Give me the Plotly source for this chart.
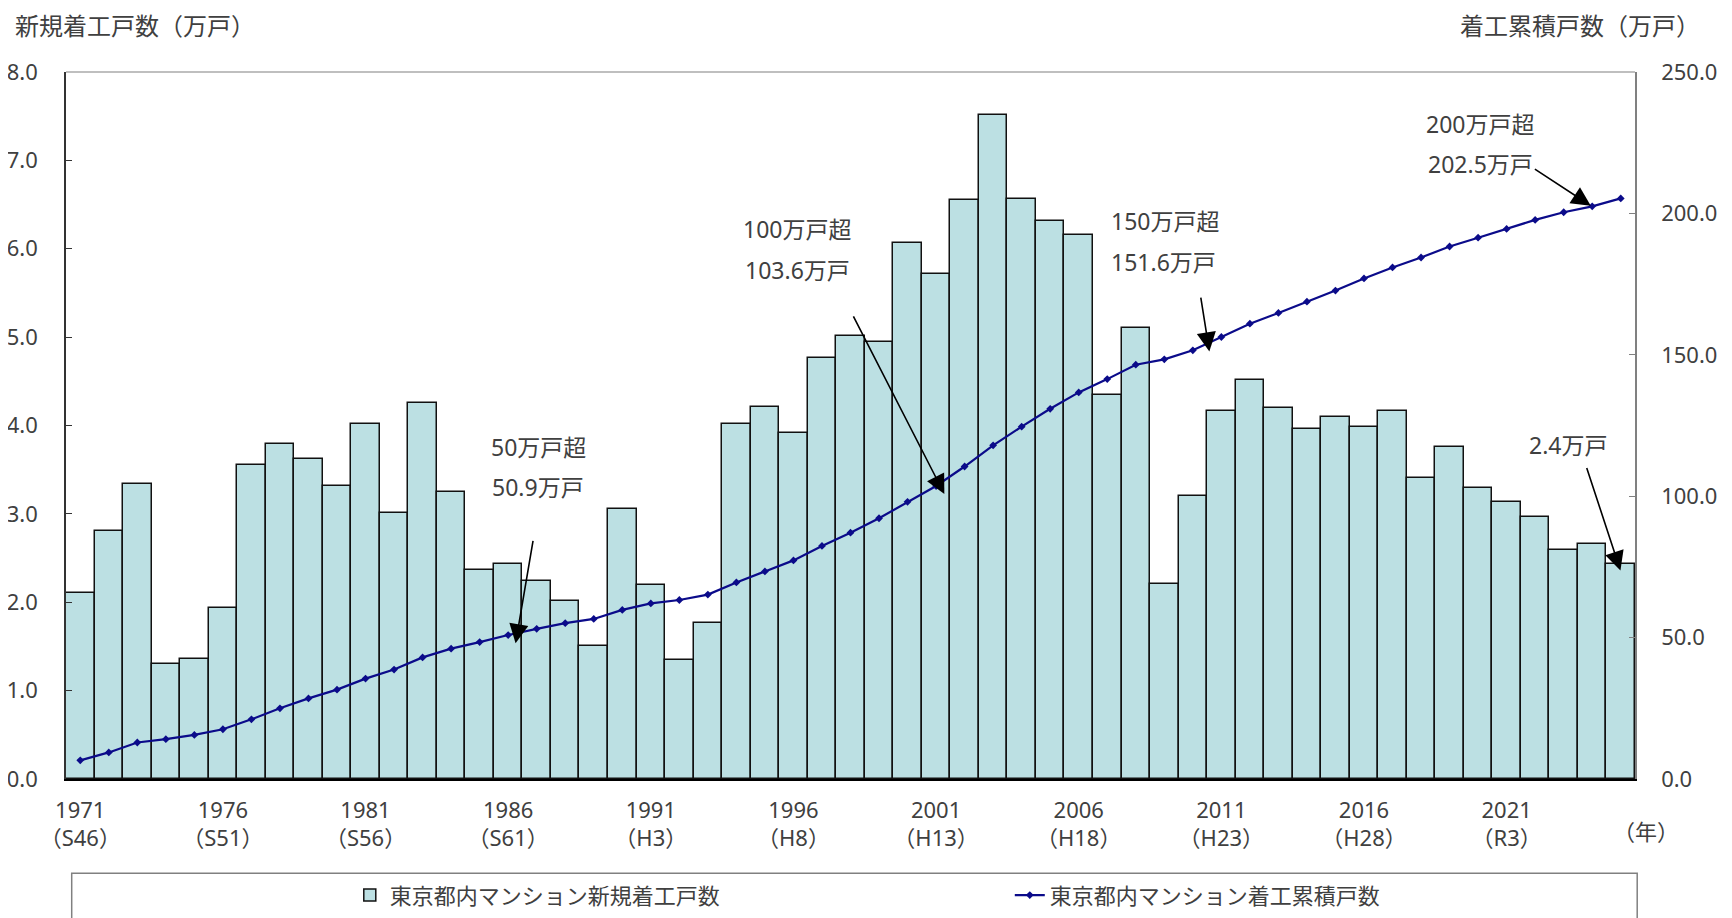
import plotly.graph_objects as go

years = list(range(1971, 2026))
new_starts = [2.10, 2.81, 3.34, 1.30, 1.36, 1.94, 3.55, 3.79, 3.62, 3.32,
              4.02, 3.01, 4.26, 3.25, 2.37, 2.43, 2.24, 2.01, 1.50, 3.05,
              2.20, 1.35, 1.77, 4.02, 4.21, 3.91, 4.76, 5.01, 4.94, 6.07,
              5.71, 6.55, 7.51, 6.56, 6.31, 6.15, 4.34, 5.10, 2.21, 3.20,
              4.16, 4.51, 4.20, 3.96, 4.10, 3.98, 4.16, 3.41, 3.76, 3.29,
              3.13, 2.96, 2.59, 2.66, 2.43]
cumulative = [6.6, 9.4, 12.9, 14.1, 15.6, 17.6, 21.1, 25.0, 28.5, 31.6,
              35.5, 38.7, 43.0, 46.1, 48.4, 50.9, 53.1, 55.1, 56.6, 59.8,
              62.1, 63.3, 65.2, 69.5, 73.4, 77.3, 82.4, 87.1, 92.2, 98.0,
              103.6, 110.5, 118.0, 124.6, 130.9, 136.7, 141.4, 146.5, 148.4, 151.6,
              156.3, 161.0, 164.8, 168.8, 172.7, 177.0, 180.9, 184.4, 188.3, 191.4,
              194.5, 197.7, 200.4, 202.5, 205.3]
tick_years = [1971, 1976, 1981, 1986, 1991, 1996, 2001, 2006, 2011, 2016, 2021]
tick_era = ["S46", "S51", "S56", "S61", "H3", "H8", "H13", "H18", "H23", "H28", "R3"]
left_ticks = [0, 1, 2, 3, 4, 5, 6, 7, 8]
right_ticks = [0, 50, 100, 150, 200, 250]

FONT = "Noto Sans, Noto Sans CJK JP, sans-serif"
TXT = "#404040"

# plot area in page pixels (used to place free text in paper coordinates)
PL, PR, PT, PB = 66.3, 1634.8, 71.8, 778.7
def px(x):
    return (x - PL) / (PR - PL)
def py(y):
    return (PB - y) / (PB - PT)

fig = go.Figure()
fig.add_trace(go.Bar(
    x=years, y=new_starts, name="東京都内マンション新規着工戸数",
    marker=dict(color="#BCE0E3", line=dict(color="#111111", width=1.5)),
    width=1.0,
))
fig.add_trace(go.Scatter(
    x=years, y=cumulative, yaxis="y2", name="東京都内マンション着工累積戸数",
    mode="lines+markers",
    line=dict(color="#0B0B8A", width=2.2),
    marker=dict(symbol="diamond", size=6, color="#0B0B8A"),
))

ann = []
def label(text, x, y):
    ann.append(dict(text=text, x=px(x), y=py(y), xref="paper", yref="paper",
                    showarrow=False, xanchor="center", yanchor="middle",
                    font=dict(size=23, color=TXT, family=FONT)))

def arrow(x, y, ax, ay, yref="y2"):
    ann.append(dict(text="", x=x, y=y, xref="x", yref=yref, ax=ax, ay=ay,
                    axref="pixel", ayref="pixel", showarrow=True,
                    arrowhead=2, arrowsize=2.4, arrowwidth=1.6,
                    arrowcolor="#000000", standoff=0))

label("50万戸超", 539, 447)
label("50.9万戸", 538, 487)
label("100万戸超", 797.5, 228.7)
label("103.6万戸", 797.5, 269.5)
label("150万戸超", 1165.3, 221)
label("151.6万戸", 1163, 261.8)
label("200万戸超", 1480, 123.7)
label("202.5万戸", 1480, 163.5)
label("2.4万戸", 1567.4, 445)

arrow(1986.26, 48.0, 17.7, -103.9)
arrow(2001.29, 100.8, -91.7, -179.0)
arrow(2010.58, 151.2, -8.8, -55.3)
arrow(2023.95, 202.7, -57.4, -37.6)
arrow(2024.99, 2.36, -34.2, -103.9, yref="y")

ann.append(dict(text="新規着工戸数（万戸）", x=px(13), y=py(25), xref="paper",
                yref="paper", showarrow=False, xanchor="left", yanchor="middle",
                font=dict(size=24, color=TXT, family=FONT)))
ann.append(dict(text="着工累積戸数（万戸）", x=px(1702), y=py(25), xref="paper",
                yref="paper", showarrow=False, xanchor="right", yanchor="middle",
                font=dict(size=24, color=TXT, family=FONT)))
ann.append(dict(text="（年）", x=px(1646), y=py(831), xref="paper", yref="paper",
                showarrow=False, xanchor="center", yanchor="middle",
                font=dict(size=22, color=TXT, family=FONT)))

shapes = [
    dict(type="line", xref="paper", yref="paper", x0=0, x1=1, y0=1, y1=1,
         line=dict(color="#808080", width=1.2)),
    dict(type="rect", xref="paper", yref="paper",
         x0=px(72), x1=px(1637), y0=py(873), y1=py(960),
         line=dict(color="#808080", width=1.5), fillcolor="rgba(0,0,0,0)"),
]

fig.update_layout(
    width=1732, height=918,
    margin=dict(l=58, r=105, t=64, b=147, autoexpand=False),
    paper_bgcolor="white", plot_bgcolor="white",
    font=dict(family=FONT, color=TXT, size=22),
    bargap=0,
    showlegend=True,
    legend=dict(orientation="h", x=px(350), xanchor="left",
                y=py(895), yanchor="middle",
                entrywidth=615, entrywidthmode="pixels",
                font=dict(size=22, color=TXT, family=FONT),
                bgcolor="rgba(0,0,0,0)"),
    xaxis=dict(range=[1970.5, 2025.5], tickmode="array", tickvals=tick_years,
               ticktext=[f"{y}<br>（{e}）" for y, e in zip(tick_years, tick_era)],
               showline=True, linecolor="#000000", linewidth=2.2,
               ticks="", showgrid=False, zeroline=False, ticklabelstandoff=10,
               tickfont=dict(size=22, color=TXT, family=FONT)),
    yaxis=dict(range=[0, 8], tickmode="array", tickvals=left_ticks,
               ticktext=[f"{v:.1f}" for v in left_ticks],
               showline=True, linecolor="#333333", linewidth=1.5,
               ticks="inside", ticklen=6, tickcolor="#333333",
               showgrid=False, zeroline=False, ticklabelstandoff=22,
               tickfont=dict(size=22, color=TXT, family=FONT)),
    yaxis2=dict(range=[0, 250], overlaying="y", side="right", tickmode="array",
                tickvals=right_ticks, ticktext=[f"{v:.1f}" for v in right_ticks],
                showline=True, linecolor="#808080", linewidth=1.5,
                ticks="inside", ticklen=6, tickcolor="#808080",
                showgrid=False, zeroline=False, ticklabelstandoff=20,
                tickfont=dict(size=22, color=TXT, family=FONT)),
    annotations=ann,
    shapes=shapes,
)

fig.write_html("out.html")
